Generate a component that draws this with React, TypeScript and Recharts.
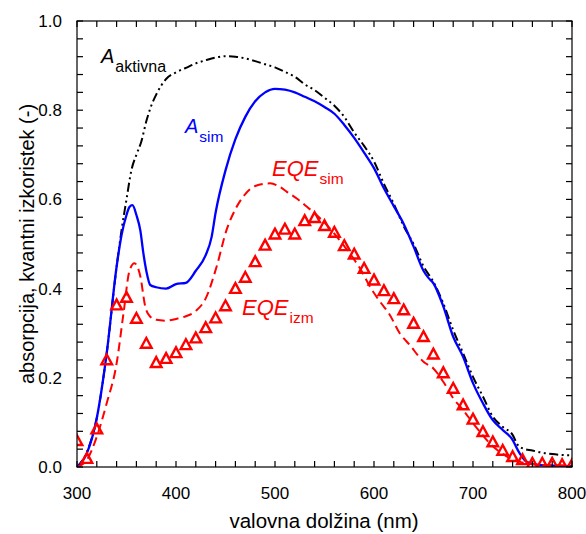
import { ComposedChart, Line, Scatter, XAxis, YAxis } from 'recharts'

// A_aktivna (črna črta-pika-pika)
const aktivnaNm = [300, 310, 320, 330, 340, 345, 350, 355, 360, 365, 370, 375, 380, 390, 400, 410, 420, 430, 440, 450, 460, 470, 480, 490, 500, 510, 520, 530, 540, 550, 560, 570, 580, 590, 600, 610, 620, 630, 640, 650, 660, 670, 680, 690, 700, 710, 720, 730, 740, 745, 750, 760, 770, 780, 790, 800]
const aktivnaVal = [0.0, 0.034, 0.11, 0.255, 0.449, 0.531, 0.6, 0.666, 0.7, 0.73, 0.775, 0.81, 0.835, 0.87, 0.885, 0.895, 0.905, 0.912, 0.918, 0.921, 0.92, 0.916, 0.91, 0.903, 0.896, 0.886, 0.875, 0.858, 0.845, 0.828, 0.81, 0.785, 0.75, 0.72, 0.685, 0.635, 0.59, 0.54, 0.5, 0.45, 0.415, 0.367, 0.307, 0.255, 0.202, 0.158, 0.113, 0.09, 0.072, 0.05, 0.042, 0.037, 0.032, 0.029, 0.027, 0.026]

// A_sim (modra polna)
const simNm = [300, 310, 320, 330, 340, 345, 350, 353, 356, 360, 364, 367, 370, 374, 380, 390, 400, 410, 420, 430, 436, 440, 450, 460, 470, 480, 490, 500, 510, 520, 530, 540, 550, 560, 570, 580, 590, 600, 610, 620, 630, 640, 650, 655, 660, 670, 680, 690, 700, 710, 720, 730, 739, 747, 754, 768, 800]
const simVal = [0.0, 0.031, 0.11, 0.255, 0.449, 0.52, 0.565, 0.583, 0.587, 0.565, 0.53, 0.48, 0.44, 0.408, 0.403, 0.4, 0.41, 0.413, 0.44, 0.475, 0.516, 0.57, 0.665, 0.735, 0.785, 0.82, 0.84, 0.848, 0.846, 0.84, 0.83, 0.82, 0.807, 0.792, 0.767, 0.738, 0.705, 0.67, 0.625, 0.585, 0.545, 0.494, 0.44, 0.424, 0.412, 0.36, 0.292, 0.247, 0.188, 0.143, 0.105, 0.083, 0.064, 0.031, 0.012, 0.004, 0.002]

// EQE_sim (rdeča črtkana)
const eqeSimNm = [300, 310, 320, 330, 340, 347, 353, 358, 364, 369, 374, 380, 390, 400, 410, 420, 430, 441, 451, 460, 470, 480, 495, 505, 512, 522, 532, 542, 550, 560, 570, 580, 586, 596, 606, 616, 626, 636, 650, 660, 670, 680, 690, 700, 707, 717, 727, 737, 747, 760, 800]
const eqeSimVal = [0.0, 0.016, 0.068, 0.143, 0.232, 0.345, 0.44, 0.457, 0.427, 0.359, 0.337, 0.33, 0.328, 0.332, 0.338, 0.35, 0.378, 0.449, 0.531, 0.578, 0.612, 0.63, 0.636, 0.628, 0.617, 0.602, 0.584, 0.565, 0.548, 0.523, 0.495, 0.465, 0.445, 0.404, 0.371, 0.341, 0.3, 0.274, 0.236, 0.221, 0.191, 0.154, 0.128, 0.098, 0.079, 0.053, 0.034, 0.02, 0.012, 0.006, 0.003]

// EQE_izm (trikotniki)
const eqeIzmNm = [300, 310, 320, 330, 340, 350, 360, 370, 380, 390, 400, 410, 420, 430, 440, 450, 460, 470, 480, 490, 500, 510, 520, 530, 540, 550, 560, 570, 580, 590, 600, 610, 620, 630, 640, 650, 660, 670, 680, 690, 700, 710, 720, 730, 740, 750, 760, 770, 780, 790, 800]
const eqeIzmVal = [0.059, 0.019, 0.085, 0.24, 0.363, 0.38, 0.333, 0.277, 0.234, 0.243, 0.256, 0.274, 0.289, 0.312, 0.334, 0.361, 0.4, 0.425, 0.46, 0.497, 0.522, 0.533, 0.522, 0.552, 0.559, 0.541, 0.526, 0.496, 0.477, 0.445, 0.419, 0.395, 0.377, 0.352, 0.322, 0.292, 0.253, 0.211, 0.176, 0.139, 0.107, 0.079, 0.056, 0.037, 0.023, 0.016, 0.008, 0.008, 0.008, 0.005, 0.005]

const xTicks = [300, 320, 340, 360, 380, 400, 420, 440, 460, 480, 500, 520, 540, 560, 580, 600, 620, 640, 660, 680, 700, 720, 740, 760, 780, 800]
const xLabeled = [300, 400, 500, 600, 700, 800]
const yTicks = [0, 0.04, 0.08, 0.12, 0.16, 0.2, 0.24, 0.28, 0.32, 0.36, 0.4, 0.44, 0.48, 0.52, 0.56, 0.6, 0.64, 0.68, 0.72, 0.76, 0.8, 0.84, 0.88, 0.92, 0.96, 1.0]
const yLabeled = [0, 0.2, 0.4, 0.6, 0.8, 1.0]

const X_MIN = 300
const X_MAX = 800
const Y_MIN = 0
const Y_MAX = 1

const W = 586
const H = 534
const MARGIN = { top: 21, right: 14, bottom: 0, left: 0 }
const Y_AXIS_W = 77
const X_AXIS_H = 67
const TICK_LEN = 6
const LW = 1.2

// okvir risalne površine (isto kot v grafu)
const PLOT_L = MARGIN.left + Y_AXIS_W
const PLOT_R = W - MARGIN.right
const PLOT_T = MARGIN.top
const PLOT_B = H - MARGIN.bottom - X_AXIS_H
const px = (v: number) => PLOT_L + ((v - X_MIN) / (X_MAX - X_MIN)) * (PLOT_R - PLOT_L)
const py = (v: number) => PLOT_B - ((v - Y_MIN) / (Y_MAX - Y_MIN)) * (PLOT_B - PLOT_T)

const FONT = '"Liberation Sans", Arial, Helvetica, sans-serif'

const toRows = (nm: number[], val: number[]) => nm.map((x, i) => ({ nm: x, v: val[i] }))

const fmtX = (v: number) => (xLabeled.includes(v) ? String(v) : '')
const fmtY = (v: number) => (yLabeled.some((t) => Math.abs(t - v) < 1e-6) ? v.toFixed(1) : '')

const tickStyle = { fontSize: 17, fontFamily: FONT, fill: '#000' }

function Triangle({ cx, cy }: any) {
  if (cx == null || cy == null) return null
  return (
    <polygon
      points={`${cx},${cy - 5.5} ${cx - 5.3},${cy + 4.3} ${cx + 5.3},${cy + 4.3}`}
      fill="none"
      stroke="#ff0000"
      strokeWidth={2.4}
    />
  )
}

// vodoravni / navpični trak kot zapolnjen pravokotnik
const hBar = (x1: number, x2: number, y: number, k: string) => (
  <rect key={k} x={Math.min(x1, x2)} y={y - LW / 2} width={Math.abs(x2 - x1)} height={LW} fill="#000" />
)
const vBar = (x: number, y1: number, y2: number, k: string) => (
  <rect key={k} x={x - LW / 2} y={Math.min(y1, y2)} width={LW} height={Math.abs(y2 - y1)} fill="#000" />
)

function Frame() {
  const bars = [
    hBar(PLOT_L - LW / 2, PLOT_R + LW / 2, PLOT_T, 'ft'),
    hBar(PLOT_L - LW / 2, PLOT_R + LW / 2, PLOT_B, 'fb'),
    vBar(PLOT_L, PLOT_T, PLOT_B, 'fl'),
    vBar(PLOT_R, PLOT_T, PLOT_B, 'fr'),
  ]
  xTicks.forEach((v) => {
    bars.push(vBar(px(v), PLOT_B, PLOT_B - TICK_LEN, `xb${v}`))
    bars.push(vBar(px(v), PLOT_T, PLOT_T + TICK_LEN, `xt${v}`))
  })
  yTicks.forEach((v) => {
    bars.push(hBar(PLOT_L, PLOT_L + TICK_LEN, py(v), `yl${v}`))
    bars.push(hBar(PLOT_R, PLOT_R - TICK_LEN, py(v), `yr${v}`))
  })
  return <g>{bars}</g>
}

function Overlay() {
  return (
    <svg
      width={W}
      height={H}
      style={{ position: 'absolute', left: 0, top: 0, pointerEvents: 'none' }}
      fontFamily={FONT}
    >
      <Frame />
      <text x={34} y={244} fontSize={20} textAnchor="middle" transform="rotate(-90 34 244)" fill="#000">
        absorpcija, kvantni izkoristek (-)
      </text>
      <text x={324} y={528} fontSize={20.5} textAnchor="middle" fill="#000">
        valovna dolžina (nm)
      </text>
      <text x={101} y={63} fill="#000">
        <tspan fontSize={20} fontStyle="italic">A</tspan>
        <tspan dx={1} dy={9} fontSize={16}>aktivna</tspan>
      </text>
      <text x={185} y={133} fill="#0000ff">
        <tspan fontSize={20} fontStyle="italic">A</tspan>
        <tspan dx={1} dy={9} fontSize={15.5}>sim</tspan>
      </text>
      <text x={272} y={176} fill="#ff0000">
        <tspan fontSize={22} fontStyle="italic">EQE</tspan>
        <tspan dx={1} dy={8} fontSize={15.5}>sim</tspan>
      </text>
      <text x={242} y={315} fill="#ff0000">
        <tspan fontSize={22} fontStyle="italic">EQE</tspan>
        <tspan dx={1} dy={8} fontSize={15.5}>izm</tspan>
      </text>
    </svg>
  )
}

export default function App() {
  const aktivna = toRows(aktivnaNm, aktivnaVal)
  const sim = toRows(simNm, simVal)
  const eqeSim = toRows(eqeSimNm, eqeSimVal)
  const eqeIzm = toRows(eqeIzmNm, eqeIzmVal)

  return (
    <div style={{ position: 'absolute', left: 0, top: 0, width: W, height: H, background: '#fff' }}>
      <ComposedChart width={W} height={H} margin={MARGIN}>
        <XAxis
          dataKey="nm"
          type="number"
          domain={[X_MIN, X_MAX]}
          allowDataOverflow
          ticks={xTicks}
          interval={0}
          height={X_AXIS_H}
          tickLine={false}
          tickMargin={14}
          axisLine={false}
          tick={tickStyle}
          tickFormatter={fmtX}
        />
        <YAxis
          dataKey="v"
          type="number"
          domain={[Y_MIN, Y_MAX]}
          allowDataOverflow
          ticks={yTicks}
          interval={0}
          width={Y_AXIS_W}
          tickLine={false}
          tickMargin={9}
          axisLine={false}
          tick={tickStyle}
          tickFormatter={fmtY}
        />
        <Line
          data={aktivna}
          dataKey="v"
          type="monotone"
          stroke="#000"
          strokeWidth={2}
          strokeDasharray="9 3.5 2 3.5 2 3.5"
          dot={false}
          activeDot={false}
          isAnimationActive={false}
        />
        <Line
          data={sim}
          dataKey="v"
          type="monotone"
          stroke="#0000ff"
          strokeWidth={2.3}
          dot={false}
          activeDot={false}
          isAnimationActive={false}
        />
        <Line
          data={eqeSim}
          dataKey="v"
          type="monotone"
          stroke="#ff0000"
          strokeWidth={2}
          strokeDasharray="9 5"
          dot={false}
          activeDot={false}
          isAnimationActive={false}
        />
        <Scatter data={eqeIzm} dataKey="v" shape={<Triangle />} isAnimationActive={false} />
      </ComposedChart>
      <Overlay />
    </div>
  )
}
